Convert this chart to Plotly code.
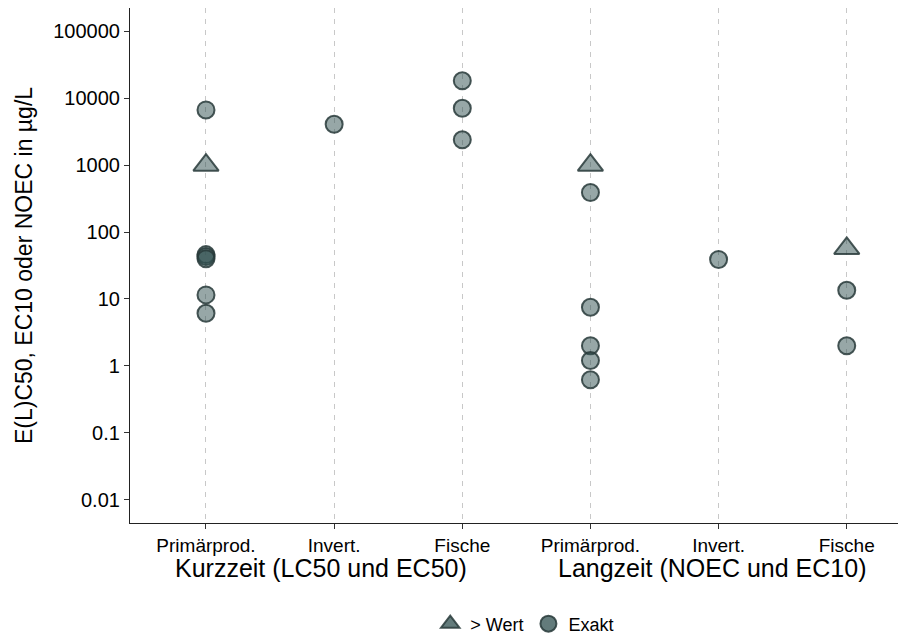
import plotly.graph_objects as go

# Species groups along the x axis (two test durations x three taxa)
tick_labels = ["Primärprod.", "Invert.", "Fische", "Primärprod.", "Invert.", "Fische"]
group_labels = ["Kurzzeit (LC50 und EC50)", "Langzeit (NOEC und EC10)"]
group_centers = [1.9, 4.95]

# Exact effect concentrations in µg/L, one list per x position
exakt = [
    [6700, 46, 43, 40, 11.5, 6.1],
    [4100],
    [18300, 7100, 2400],
    [390, 7.5, 2.0, 1.2, 0.62],
    [39],
    [13.5, 2.0],
]
# "greater than" values in µg/L
wert = [
    [1000],
    [],
    [],
    [1000],
    [],
    [57],
]

y_ticks = [0.01, 0.1, 1, 10, 100, 1000, 10000, 100000]
y_tick_text = ["0.01", "0.1", "1", "10", "100", "1000", "10000", "100000"]

FONT = "Liberation Sans, Arial, sans-serif"
FILL = "rgba(47,79,79,0.5)"
EDGE = "rgba(40,58,58,0.85)"
LEG_FILL = "rgba(47,79,79,0.75)"

def flatten(groups):
    xs, ys = [], []
    for i, vals in enumerate(groups):
        for v in vals:
            xs.append(i + 1)
            ys.append(v)
    return xs, ys

fig = go.Figure()

wx, wy = flatten(wert)
ex, ey = flatten(exakt)

fig.add_trace(go.Scatter(
    x=wx, y=wy, mode="markers", showlegend=False, hoverinfo="y",
    marker=dict(symbol="triangle-up", size=22, color=FILL,
                line=dict(color=EDGE, width=2)),
))
fig.add_trace(go.Scatter(
    x=ex, y=ey, mode="markers", showlegend=False, hoverinfo="y",
    marker=dict(symbol="circle", size=17, color=FILL,
                line=dict(color=EDGE, width=2)),
))

# legend entries
fig.add_trace(go.Scatter(
    x=[None], y=[None], mode="markers", name="> Wert",
    marker=dict(symbol="triangle-up", size=16, color=LEG_FILL,
                line=dict(color=EDGE, width=2)),
))
fig.add_trace(go.Scatter(
    x=[None], y=[None], mode="markers", name="Exakt",
    marker=dict(symbol="circle", size=16, color=LEG_FILL,
                line=dict(color=EDGE, width=2)),
))

for label, xc in zip(group_labels, group_centers):
    fig.add_annotation(
        x=xc, xref="x", y=-0.088, yref="paper", yanchor="middle",
        text=label, showarrow=False,
        font=dict(family=FONT, size=25, color="black"),
    )

fig.update_layout(
    width=909, height=636,
    margin=dict(l=130, r=11, t=8, b=113, autoexpand=False),
    paper_bgcolor="white", plot_bgcolor="white",
    font=dict(family=FONT, color="black"),
    legend=dict(
        orientation="h", x=0.514, xanchor="center", y=-0.196, yanchor="middle",
        font=dict(family=FONT, size=18, color="black"),
        itemwidth=30, tracegroupgap=0,
    ),
)

fig.update_xaxes(
    range=[0.407, 6.4],
    tickmode="array", tickvals=list(range(1, len(tick_labels) + 1)),
    ticktext=tick_labels,
    tickfont=dict(family=FONT, size=19, color="black"),
    ticks="outside", ticklen=5, tickcolor="#333333", tickwidth=1,
    showline=True, linecolor="#222222", linewidth=1.2,
    showgrid=True, gridcolor="#c8c8c8", gridwidth=1, griddash="5px,6px",
    zeroline=False,
)

fig.update_yaxes(
    type="log", range=[-2.35, 5.35],
    tickmode="array", tickvals=y_ticks, ticktext=y_tick_text,
    tickfont=dict(family=FONT, size=20, color="black"),
    ticks="outside", ticklen=5, tickcolor="#333333", tickwidth=1,
    showline=True, linecolor="#222222", linewidth=1.2,
    showgrid=False, zeroline=False,
    title=dict(text="E(L)C50, EC10 oder NOEC in µg/L",
               font=dict(family=FONT, size=23, color="black"), standoff=14),
)

fig.write_html("out.html")
